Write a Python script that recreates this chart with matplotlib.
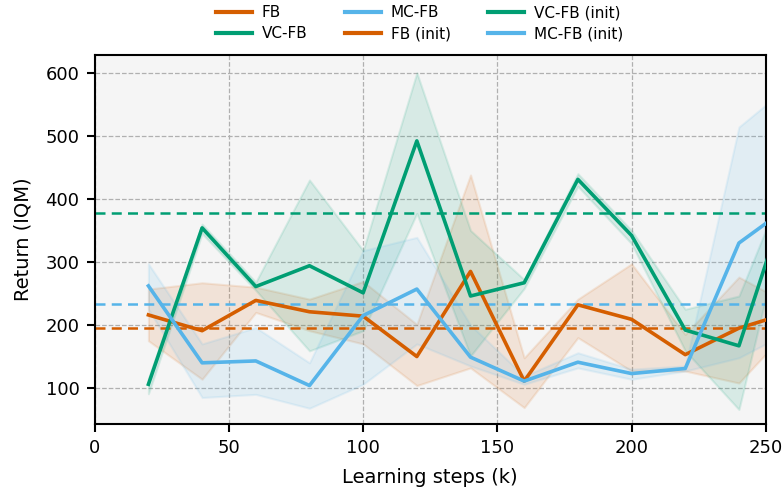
import matplotlib
matplotlib.use("Agg")
import matplotlib.pyplot as plt
from matplotlib.lines import Line2D
import numpy as np

steps = [20, 40, 60, 80, 100, 120, 140, 160, 180, 200, 220, 240, 260]

fb_mean = [216, 191, 239, 221, 214, 150, 285, 111, 232, 209, 153, 195, 221]
fb_low = [175, 114, 220, 191, 170, 104, 132, 69, 180, 127, 127, 108, 200]
fb_high = [257, 267, 260, 241, 269, 201, 438, 148, 241, 297, 185, 276, 230]

vc_mean = [106, 354, 261, 294, 251, 492, 246, 267, 431, 342, 192, 167, 427]
vc_low = [91, 345, 255, 159, 191, 377, 151, 258, 420, 329, 159, 66, 420]
vc_high = [115, 360, 268, 430, 318, 600, 350, 272, 440, 350, 225, 246, 455]

mc_mean = [262, 140, 143, 104, 215, 257, 149, 111, 141, 123, 131, 330, 392]
mc_low = [225, 85, 90, 68, 106, 170, 135, 106, 132, 114, 127, 148, 192]
mc_high = [297, 170, 196, 140, 318, 339, 200, 119, 156, 130, 135, 514, 584]

fb_init = 195
vc_init = 378
mc_init = 234

labels = ["FB", "VC-FB", "MC-FB", "FB (init)", "VC-FB (init)", "MC-FB (init)"]
c_fb, c_vc, c_mc = "#D55E00", "#009E73", "#56B4E9"

fig = plt.figure(figsize=(7.83, 5.0), dpi=100)
ax = fig.add_axes([0.121, 0.152, 0.857, 0.739])
ax.set_facecolor("#f5f5f5")

for mean, lo, hi, c in [(fb_mean, fb_low, fb_high, c_fb),
                        (vc_mean, vc_low, vc_high, c_vc),
                        (mc_mean, mc_low, mc_high, c_mc)]:
    ax.fill_between(steps, lo, hi, color=c, alpha=0.12, linewidth=1.5)
    ax.plot(steps, mean, color=c, linewidth=2.6, zorder=3)

for v, c in [(fb_init, c_fb), (vc_init, c_vc), (mc_init, c_mc)]:
    ax.axhline(v, color=c, linestyle=(0, (4, 2.5)), linewidth=1.8, zorder=2)

ax.set_xlim(0, 250)
ax.set_ylim(43, 629)
ax.set_xticks([0, 50, 100, 150, 200, 250])
ax.set_yticks([100, 200, 300, 400, 500, 600])
ax.grid(True, color="#b0b0b0", linestyle="--", linewidth=0.9)
ax.set_axisbelow(True)
for s in ax.spines.values():
    s.set_linewidth(1.5)
    s.set_color("black")
ax.tick_params(axis="both", labelsize=13, width=1.5, length=6, pad=5, direction="out")
ax.set_xlabel("Learning steps (k)", fontsize=14, labelpad=8)
ax.set_ylabel("Return (IQM)", fontsize=14, labelpad=9)

handles = [Line2D([0], [0], color=c, linewidth=3) for c in [c_fb, c_vc, c_mc, c_fb, c_vc, c_mc]]
fig.legend(handles, labels, loc="upper left", bbox_to_anchor=(0.276, 0.99), ncol=3,
           frameon=False, fontsize=11, handlelength=2.35, handletextpad=0.65,
           columnspacing=2.45, labelspacing=0.4, borderpad=0, borderaxespad=0)

fig.savefig("out.png", dpi=100)
